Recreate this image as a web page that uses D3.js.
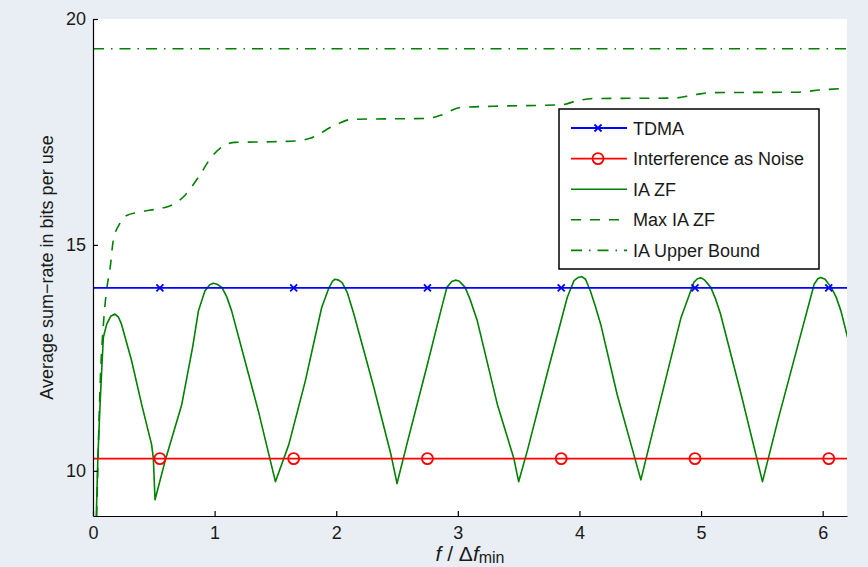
<!DOCTYPE html>
<html>
<head>
<meta charset="utf-8">
<script src="https://cdn.jsdelivr.net/npm/d3@7"></script>
<style>
  body { margin: 0; background: #e8eef4; }
  svg { display: block; font-family: "Liberation Sans", Arial, sans-serif; }
  .axis path, .axis line { stroke: #000; stroke-width: 1.2; }
  .axis text { font-size: 18px; fill: #1a1a1a; font-family: "Liberation Sans", Arial, sans-serif; }
</style>
</head>
<body>
<div id="chart-area"></div>
<script>
// values
let xTicks = [0, 1, 2, 3, 4, 5, 6];
let yTicks = [10, 15, 20];

let seriesNames = ["TDMA", "Interference as Noise", "IA ZF", "Max IA ZF", "IA Upper Bound"];

// flat reference lines (x positions of their ends and markers)
let flatF = [0, 0.55, 1.65, 2.75, 3.85, 4.95, 6.05, 6.2];
let markerF = [0.55, 1.65, 2.75, 3.85, 4.95, 6.05];
let tdmaRate = [14.05, 14.05, 14.05, 14.05, 14.05, 14.05, 14.05, 14.05];
let ianRate = [10.27, 10.27, 10.27, 10.27, 10.27, 10.27, 10.27, 10.27];
let upperRate = [19.34, 19.34, 19.34, 19.34, 19.34, 19.34, 19.34, 19.34];

// IA ZF (solid)
let iaZfF = [0.025, 0.04, 0.058, 0.071, 0.085, 0.112, 0.145, 0.18, 0.21, 0.235, 0.318, 0.40, 0.482, 0.496, 0.51,
  0.592, 0.73, 0.82, 0.867, 0.92, 0.96, 0.99, 1.02, 1.06, 1.10, 1.14, 1.25, 1.36, 1.50,
  1.61, 1.745, 1.88, 1.94, 1.97, 1.99, 2.02, 2.05, 2.09, 2.145, 2.31, 2.45, 2.50,
  2.58, 2.75, 2.86, 2.91, 2.95, 2.98, 3.01, 3.06, 3.10, 3.16, 3.325, 3.46, 3.50,
  3.57, 3.74, 3.90, 3.955, 3.99, 4.02, 4.05, 4.09, 4.13, 4.175, 4.31, 4.505,
  4.61, 4.835, 4.94, 4.97, 5.0, 5.03, 5.08, 5.12, 5.16, 5.33, 5.505,
  5.63, 5.82, 5.93, 5.96, 5.985, 6.02, 6.07, 6.11, 6.15, 6.205];
let iaZfRate = [8.8, 10.3, 11.47, 12.2, 12.95, 13.24, 13.42, 13.47, 13.4, 13.24, 12.43, 11.47, 10.58, 10.28, 9.36,
  10.21, 11.47, 12.75, 13.54, 13.98, 14.12, 14.15, 14.13, 14.06, 13.85, 13.54, 12.43, 11.32, 9.76,
  10.58, 11.98, 13.61, 14.05, 14.2, 14.24, 14.22, 14.16, 13.95, 13.47, 11.84, 10.36, 9.72,
  10.58, 12.36, 13.54, 14.06, 14.19, 14.22, 14.2, 14.06, 13.8, 13.32, 11.47, 10.28, 9.76,
  10.43, 12.21, 13.84, 14.21, 14.28, 14.30, 14.24, 13.98, 13.65, 13.24, 11.69, 9.8,
  10.95, 13.39, 14.17, 14.25, 14.27, 14.22, 14.06, 13.8, 13.47, 11.69, 9.76,
  11.1, 13.02, 14.13, 14.25, 14.28, 14.24, 14.06, 13.85, 13.54, 12.95];

// Max IA ZF (dashed)
let maxIaZfF = [0.03, 0.06, 0.09, 0.115, 0.14, 0.167, 0.22, 0.277, 0.37, 0.537, 0.62, 0.757, 0.867,
  0.976, 1.06, 1.17, 1.415, 1.66, 1.785, 1.99, 2.13, 2.75, 2.86, 3.02, 3.30, 3.85, 3.98,
  4.12, 4.78, 4.94, 5.08, 5.77, 5.99, 6.205];
let maxIaZfRate = [9.0, 12.0, 13.4, 14.06, 14.47, 15.1, 15.47, 15.65, 15.72, 15.8, 15.85, 16.1, 16.5,
  16.95, 17.17, 17.27, 17.28, 17.3, 17.36, 17.65, 17.78, 17.8, 17.87, 18.04, 18.07, 18.1, 18.19,
  18.24, 18.25, 18.32, 18.37, 18.38, 18.43, 18.47];

let W = 868, H = 567;
let margin = { left: 93, right: 21, top: 19, bottom: 51 };
let width = W - margin.left - margin.right;
let height = H - margin.top - margin.bottom;

let svg = d3.select("#chart-area")
    .append("svg")
    .attr("width", W)
    .attr("height", H);

svg.append("rect")
    .attr("width", W).attr("height", H)
    .attr("fill", "#e8eef4");

let g = svg.append("g")
    .attr("transform", "translate(" + margin.left + "," + margin.top + ")");

g.append("rect")
    .attr("width", width).attr("height", height)
    .attr("fill", "#fff");

g.append("clipPath").attr("id", "clip")
    .append("rect").attr("width", width).attr("height", height);

let x = d3.scaleLinear().domain([0, 6.2]).range([0, width]);
let y = d3.scaleLinear().domain([9, 20]).range([height, 0]);

// series definitions
let series = [
  { name: seriesNames[0], f: flatF, v: tdmaRate, color: "#0000ff", dash: null, marker: "x", width: 1.8 },
  { name: seriesNames[1], f: flatF, v: ianRate, color: "#ff0000", dash: null, marker: "o", width: 1.8 },
  { name: seriesNames[2], f: iaZfF, v: iaZfRate, color: "#008000", dash: null, marker: null, width: 1.6 },
  { name: seriesNames[3], f: maxIaZfF, v: maxIaZfRate, color: "#008000", dash: "10,9", marker: null, width: 1.6, curve: d3.curveMonotoneX },
  { name: seriesNames[4], f: flatF, v: upperRate, color: "#008000", dash: "11,7,1.5,7", marker: null, width: 1.6 }
];

let plot = g.append("g").attr("clip-path", "url(#clip)");

// draw in reverse so TDMA / IAN sit on top like the reference
series.slice().reverse().forEach(s => {
  let pts = s.f.map((f, i) => [f, s.v[i]]);
  let line = d3.line()
      .x(d => x(d[0]))
      .y(d => y(d[1]))
      .curve(s.curve || d3.curveLinear);
  plot.append("path")
      .datum(pts)
      .attr("fill", "none")
      .attr("stroke", s.color)
      .attr("stroke-width", s.width)
      .attr("stroke-dasharray", s.dash)
      .attr("stroke-linejoin", "round")
      .attr("d", line);
});

function drawMarker(sel, type, color) {
  if (type === "x") {
    sel.append("path")
        .attr("d", "M-3.5,-3.5L3.5,3.5M-3.5,3.5L3.5,-3.5")
        .attr("stroke", color).attr("stroke-width", 1.8).attr("fill", "none");
  } else if (type === "o") {
    sel.append("circle")
        .attr("r", 5.5)
        .attr("stroke", color).attr("stroke-width", 1.8).attr("fill", "none");
  }
}

series.filter(s => s.marker).forEach(s => {
  let rate = s.v[0];
  plot.selectAll(null)
      .data(markerF)
      .enter()
      .append("g")
      .attr("transform", d => "translate(" + x(d) + "," + y(rate) + ")")
      .each(function () { drawMarker(d3.select(this), s.marker, s.color); });
});

// X axis
let xAxis = d3.axisBottom(x)
    .tickValues(xTicks)
    .tickFormat(d3.format("d"))
    .tickSizeInner(-5)
    .tickSizeOuter(0)
    .tickPadding(10);

g.append("g")
    .attr("class", "axis x-axis")
    .attr("transform", "translate(0," + height + ")")
    .call(xAxis);

// Y axis
let yAxis = d3.axisLeft(y)
    .tickValues(yTicks)
    .tickFormat(d3.format("d"))
    .tickSizeInner(-5)
    .tickSizeOuter(0)
    .tickPadding(7);

g.append("g")
    .attr("class", "axis y-axis")
    .call(yAxis);

// x label  f / Δf_min
let xl = g.append("text")
    .attr("x", width / 2)
    .attr("y", height + 45)
    .attr("text-anchor", "middle")
    .attr("font-size", 21)
    .attr("fill", "#1a1a1a");
xl.append("tspan").attr("font-style", "italic").text("f");
xl.append("tspan").text(" / \u0394");
xl.append("tspan").attr("font-style", "italic").text("f");
xl.append("tspan").attr("font-size", 16).attr("dy", 2).text("min");

// y label
g.append("text")
    .attr("transform", "rotate(-90)")
    .attr("x", -height / 2)
    .attr("y", -40)
    .attr("text-anchor", "middle")
    .attr("font-size", 18)
    .attr("fill", "#1a1a1a")
    .text("Average sum\u2212rate in bits per use");

// legend
let legend = svg.append("g")
    .attr("transform", "translate(559,109)");

legend.append("rect")
    .attr("width", 260).attr("height", 160)
    .attr("fill", "#fff")
    .attr("stroke", "#000")
    .attr("stroke-width", 1.5);

let rows = legend.selectAll(".row")
    .data(series)
    .enter()
    .append("g")
    .attr("class", "row")
    .attr("transform", (d, i) => "translate(0," + (19 + i * 30.6) + ")");

rows.append("line")
    .attr("x1", 12).attr("x2", 68)
    .attr("stroke", d => d.color)
    .attr("stroke-width", d => d.width)
    .attr("stroke-dasharray", d => d.dash);

rows.each(function (d) {
  if (d.marker) {
    drawMarker(d3.select(this).append("g").attr("transform", "translate(39,0)"), d.marker, d.color);
  }
});

rows.append("text")
    .attr("x", 74)
    .attr("y", 6.5)
    .attr("font-size", 18)
    .attr("fill", "#1a1a1a")
    .text(d => d.name);
</script>
</body>
</html>
